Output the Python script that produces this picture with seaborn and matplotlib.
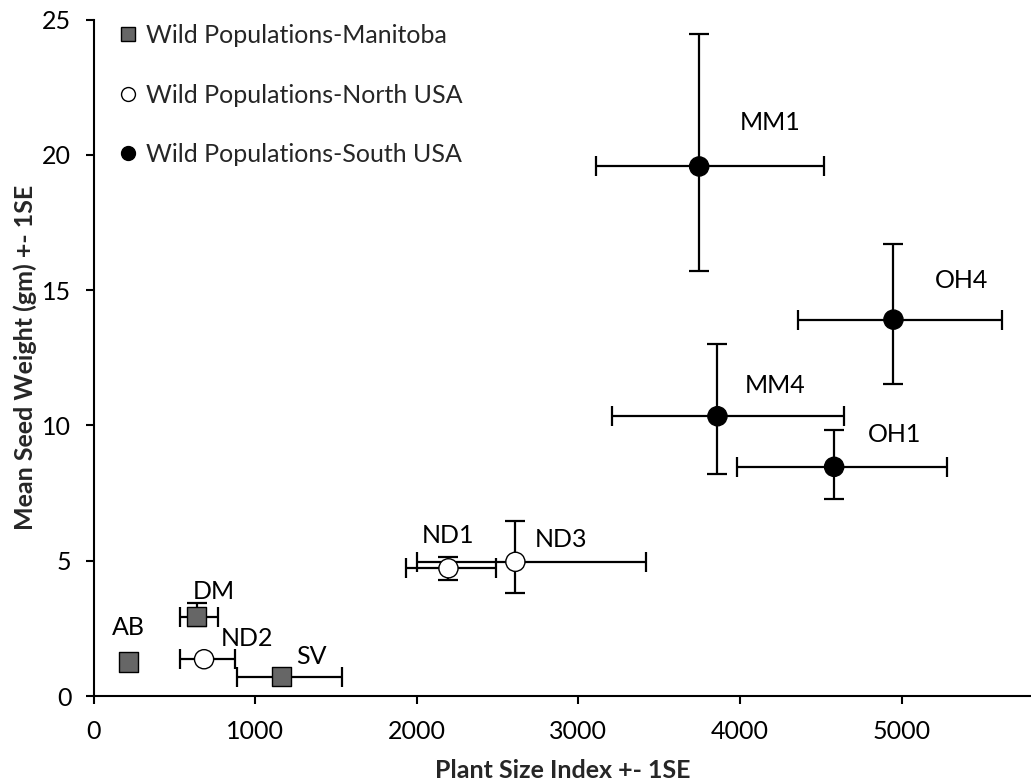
import numpy as np
import pandas as pd
import seaborn as sns
import matplotlib.pyplot as plt
from matplotlib.lines import Line2D

# ---- data ----
populations = ["AB", "DM", "SV", "ND1", "ND2", "ND3", "MM1", "MM4", "OH1", "OH4"]
groups = ["Wild Populations-Manitoba"] * 3 + ["Wild Populations-North USA"] * 3 + \
         ["Wild Populations-South USA"] * 4
plant_size = [215, 639, 1164, 2196, 684, 2610, 3747, 3860, 4582, 4949]
seed_weight = [1.26, 2.93, 0.71, 4.72, 1.36, 4.96, 19.57, 10.34, 8.47, 13.91]
size_low = [215, 537, 886, 1934, 535, 2000, 3110, 3207, 3980, 4361]
size_high = [215, 770, 1540, 2491, 874, 3419, 4521, 4644, 5280, 5620]
weight_low = [1.26, 2.58, 0.71, 4.28, 1.36, 3.79, 15.69, 8.19, 7.27, 11.52]
weight_high = [1.26, 3.42, 0.71, 5.14, 1.36, 6.47, 24.45, 13.02, 9.82, 16.72]

x_ticks = [0, 1000, 2000, 3000, 4000, 5000]
y_ticks = [0, 5, 10, 15, 20, 25]

df = pd.DataFrame({"pop": populations, "group": groups, "x": plant_size,
                   "y": seed_weight, "xlo": size_low, "xhi": size_high,
                   "ylo": weight_low, "yhi": weight_high})

# label offsets (pixels) relative to each point
label_offsets = {"AB": (0, 34), "DM": (17, 25), "ND2": (43, 21), "SV": (30, 20),
                 "ND1": (0, 33), "ND3": (46, 22), "MM1": (71, 44), "OH4": (68, 39),
                 "MM4": (58, 31), "OH1": (60, 32)}

sns.set_theme(style="ticks")
plt.rcParams['font.family'] = ['Lato', 'DejaVu Sans']

fig = plt.figure(figsize=(10.31, 7.84), dpi=100)
ax = fig.add_axes([0.0907, 0.1122, 0.9093, 0.8629])

# error bars (only where there is a visible spread)
ekw = dict(fmt="none", ecolor="black", elinewidth=1.6, capsize=7.5, capthick=1.6, zorder=2)
dx_ = df[df.xhi > df.xlo]
ax.errorbar(dx_.x, dx_.y, xerr=np.vstack([dx_.x - dx_.xlo, dx_.xhi - dx_.x]), **ekw)
dy_ = df[df.yhi > df.ylo]
ax.errorbar(dy_.x, dy_.y, yerr=np.vstack([dy_.y - dy_.ylo, dy_.yhi - dy_.y]), **ekw)

palette = {"Wild Populations-Manitoba": "#666666",
           "Wild Populations-North USA": "white",
           "Wild Populations-South USA": "black"}
markers = {"Wild Populations-Manitoba": "s",
           "Wild Populations-North USA": "o",
           "Wild Populations-South USA": "o"}
sns.scatterplot(data=df, x="x", y="y", hue="group", style="group",
                palette=palette, markers=markers, s=190, edgecolor="black",
                linewidth=1.0, ax=ax, legend=False, zorder=3)

for _, r in df.iterrows():
    ox, oy = label_offsets[r["pop"]]
    ax.annotate(r["pop"], (r.x, r.y), xytext=(ox, oy), textcoords="offset pixels",
                ha="center", va="center", fontsize=18, color="black")

ax.set_xlim(0, 5800)
ax.set_ylim(0, 25)
ax.set_xticks(x_ticks)
ax.set_yticks(y_ticks)
ax.tick_params(axis="both", direction="out", length=6, width=1.5,
               labelsize=18, colors="black")
ax.tick_params(axis="x", pad=11)
ax.tick_params(axis="y", pad=10)
for s in ["top", "right"]:
    ax.spines[s].set_visible(False)
for s in ["left", "bottom"]:
    ax.spines[s].set_linewidth(1.5)
    ax.spines[s].set_color("black")

ax.set_xlabel("Plant Size Index +- 1SE", fontsize=18, fontweight="bold", labelpad=12)
ax.set_ylabel("Mean Seed Weight (gm) +- 1SE", fontsize=18, fontweight="bold", labelpad=4)

handles = [Line2D([], [], marker=markers[g], color="none", markerfacecolor=palette[g],
                  markeredgecolor="black", markeredgewidth=1.0,
                  markersize=9.5 if markers[g] == "s" else 10, linestyle="none")
           for g in palette]
ax.legend(handles, list(palette.keys()), loc="upper left", bbox_to_anchor=(0.0125, 1.008),
          frameon=False, fontsize=18, handletextpad=0.25, labelspacing=1.46,
          handlelength=1.0, borderaxespad=0)

fig.savefig("out.png", dpi=100)
